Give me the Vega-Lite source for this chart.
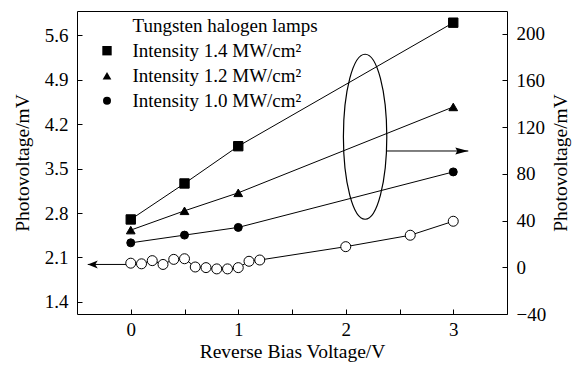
{
  "$schema": "https://vega.github.io/schema/vega-lite/v6.json",
  "autosize": {"type": "none"},
  "padding": {"left": 77, "top": 11, "right": 67, "bottom": 55},
  "width": 430,
  "height": 303,
  "background": "white",
  "config": {
    "view": {"stroke": "black", "strokeWidth": 1},
    "font": "Liberation Serif",
    "axis": {
      "domain": false, "tickColor": "black", "labelColor": "black", "titleColor": "black",
      "labelFont": "Liberation Serif", "titleFont": "Liberation Serif",
      "labelFontSize": 19, "titleFontSize": 19.5, "titleFontWeight": "normal",
      "grid": false, "labelFlush": false, "labelOverlap": false, "tickWidth": 1,
      "ticks": true, "tickSize": 5, "offset": -5, "zindex": 1
    },
    "legend": {
      "orient": "none", "legendX": 20.5, "legendY": 5.2, "zindex": 2,
      "labelFont": "Liberation Serif", "labelFontSize": 19, "labelColor": "black", "labelLimit": 0,
      "labelOffset": 16, "rowPadding": 5, "padding": 0,
      "symbolStrokeColor": "black", "symbolStrokeWidth": 1
    }
  },
  "datasets": {
    "pts": [
      {"series": "Tungsten halogen lamps", "x": 0, "y": 2.01},
      {"series": "Tungsten halogen lamps", "x": 0.1, "y": 2.0},
      {"series": "Tungsten halogen lamps", "x": 0.2, "y": 2.05},
      {"series": "Tungsten halogen lamps", "x": 0.3, "y": 1.99},
      {"series": "Tungsten halogen lamps", "x": 0.4, "y": 2.07},
      {"series": "Tungsten halogen lamps", "x": 0.5, "y": 2.08},
      {"series": "Tungsten halogen lamps", "x": 0.6, "y": 1.95},
      {"series": "Tungsten halogen lamps", "x": 0.7, "y": 1.94},
      {"series": "Tungsten halogen lamps", "x": 0.8, "y": 1.92},
      {"series": "Tungsten halogen lamps", "x": 0.9, "y": 1.92},
      {"series": "Tungsten halogen lamps", "x": 1.0, "y": 1.94},
      {"series": "Tungsten halogen lamps", "x": 1.1, "y": 2.04},
      {"series": "Tungsten halogen lamps", "x": 1.2, "y": 2.06},
      {"series": "Tungsten halogen lamps", "x": 2.0, "y": 2.27},
      {"series": "Tungsten halogen lamps", "x": 2.6, "y": 2.45},
      {"series": "Tungsten halogen lamps", "x": 3.0, "y": 2.67},
      {"series": "Intensity 1.4 MW/cm²", "x": 0, "y": 40.9},
      {"series": "Intensity 1.4 MW/cm²", "x": 0.5, "y": 71.7},
      {"series": "Intensity 1.4 MW/cm²", "x": 1, "y": 103.6},
      {"series": "Intensity 1.4 MW/cm²", "x": 3, "y": 209.3},
      {"series": "Intensity 1.2 MW/cm²", "x": 0, "y": 31.8},
      {"series": "Intensity 1.2 MW/cm²", "x": 0.5, "y": 48.3},
      {"series": "Intensity 1.2 MW/cm²", "x": 1, "y": 63.7},
      {"series": "Intensity 1.2 MW/cm²", "x": 3, "y": 137.2},
      {"series": "Intensity 1.0 MW/cm²", "x": 0, "y": 20.9},
      {"series": "Intensity 1.0 MW/cm²", "x": 0.5, "y": 27.5},
      {"series": "Intensity 1.0 MW/cm²", "x": 1, "y": 34.1},
      {"series": "Intensity 1.0 MW/cm²", "x": 3, "y": 81.6}
    ],
    "notes": [
      {"kind": "left", "x": 0, "x2": -0.4, "y": 1.99},
      {"kind": "right", "x": 2.382, "x2": 3.14, "y": 99.5},
      {"kind": "ellipse", "x": 2.18, "y": 111.7}
    ]
  },
  "resolve": {"scale": {"y": "independent"}},
  "layer": [
    {
      "layer": [
        {
          "data": {"name": "pts"},
          "transform": [{"filter": "datum.series === 'Tungsten halogen lamps'"}],
          "mark": {"type": "line", "color": "black", "strokeWidth": 1},
          "encoding": {
            "x": {"field": "x", "type": "quantitative", "scale": {"domain": [-0.5, 3.5], "nice": false, "zero": false},
              "axis": {"orient": "bottom", "values": [0, 0.5, 1, 1.5, 2, 2.5, 3],
                "labelExpr": "datum.value % 1 === 0 ? format(datum.value, 'd') : ''",
                "labelPadding": 6, "title": "Reverse Bias Voltage/V", "titlePadding": 3}},
            "y": {"field": "y", "type": "quantitative", "scale": {"domain": [1.21, 5.98], "nice": false, "zero": false},
              "axis": {"orient": "left", "values": [1.4, 1.75, 2.1, 2.45, 2.8, 3.15, 3.5, 3.85, 4.2, 4.55, 4.9, 5.25, 5.6],
                "labelExpr": "round(datum.value / 0.35) % 2 === 0 ? format(datum.value, '.1f') : ''",
                "labelPadding": 9, "title": "Photovoltage/mV", "titlePadding": 12}}
          }
        },
        {
          "data": {"name": "notes"},
          "transform": [{"filter": "datum.kind === 'left'"}],
          "mark": {"type": "rule", "color": "black", "strokeWidth": 1},
          "encoding": {
            "x": {"field": "x", "type": "quantitative", "scale": {"domain": [-0.5, 3.5], "nice": false, "zero": false}},
            "x2": {"field": "x2"},
            "y": {"field": "y", "type": "quantitative", "scale": {"domain": [1.21, 5.98], "nice": false, "zero": false}}
          }
        },
        {
          "data": {"name": "notes"},
          "transform": [{"filter": "datum.kind === 'left'"}],
          "mark": {"type": "point", "shape": "M0,0L2,-0.8L1.5,0L2,0.8Z", "size": 100, "filled": true, "color": "black", "opacity": 1},
          "encoding": {
            "x": {"field": "x2", "type": "quantitative", "scale": {"domain": [-0.5, 3.5], "nice": false, "zero": false}},
            "y": {"field": "y", "type": "quantitative", "scale": {"domain": [1.21, 5.98], "nice": false, "zero": false}}
          }
        },
        {
          "data": {"name": "pts"},
          "transform": [{"filter": "datum.series === 'Tungsten halogen lamps'"}],
          "mark": {"type": "point", "filled": true, "stroke": "black", "strokeWidth": 1, "opacity": 1},
          "encoding": {
            "x": {"field": "x", "type": "quantitative", "scale": {"domain": [-0.5, 3.5], "nice": false, "zero": false}},
            "y": {"field": "y", "type": "quantitative", "scale": {"domain": [1.21, 5.98], "nice": false, "zero": false}},
            "shape": {"field": "series", "type": "nominal",
              "scale": {"domain": ["Tungsten halogen lamps", "Intensity 1.4 MW/cm²", "Intensity 1.2 MW/cm²", "Intensity 1.0 MW/cm²"], "range": ["circle", "square", "triangle-up", "circle"]},
              "legend": {"orient": "none", "legendX": 20.5, "legendY": 5.2, "title": null, "labelLimit": 0,
                "encode": {"symbols": {
                  "shape": {"condition": [
                    {"test": "datum.value === 'Tungsten halogen lamps'", "value": "M-4.6,0L-1.1,0M1.1,0L4.6,0M1.1,0C1.1,0.61,0.61,1.1,0,1.1C-0.61,1.1,-1.1,0.61,-1.1,0C-1.1,-0.61,-0.61,-1.1,0,-1.1C0.61,-1.1,1.1,-0.61,1.1,0Z"},
                    {"test": "datum.value === 'Intensity 1.4 MW/cm²'", "value": "M-4.6,0L-0.9,0M0.9,0L4.6,0M-0.9,-0.9L0.9,-0.9L0.9,0.9L-0.9,0.9Z"},
                    {"test": "datum.value === 'Intensity 1.2 MW/cm²'", "value": "M-4.6,0L-0.9,0M0.9,0L4.6,0M0,-1.05L1.05,0.8L-1.05,0.8Z"}],
                    "value": "M-4.6,0L-1,0M1,0L4.6,0M1,0C1,0.552,0.552,1,0,1C-0.552,1,-1,0.552,-1,0C-1,-0.552,-0.552,-1,0,-1C0.552,-1,1,-0.552,1,0Z"},
                  "size": {"value": 81},
                  "stroke": {"value": "black"},
                  "strokeWidth": {"value": 1},
                  "opacity": {"value": 1}
                }}}},
            "fill": {"field": "series", "type": "nominal",
              "scale": {"domain": ["Tungsten halogen lamps", "Intensity 1.4 MW/cm²", "Intensity 1.2 MW/cm²", "Intensity 1.0 MW/cm²"], "range": ["white", "black", "black", "black"]},
              "legend": {"orient": "none", "legendX": 20.5, "legendY": 5.2, "title": null, "labelLimit": 0,
                "encode": {"symbols": {
                  "shape": {"condition": [
                    {"test": "datum.value === 'Tungsten halogen lamps'", "value": "M-4.6,0L-1.1,0M1.1,0L4.6,0M1.1,0C1.1,0.61,0.61,1.1,0,1.1C-0.61,1.1,-1.1,0.61,-1.1,0C-1.1,-0.61,-0.61,-1.1,0,-1.1C0.61,-1.1,1.1,-0.61,1.1,0Z"},
                    {"test": "datum.value === 'Intensity 1.4 MW/cm²'", "value": "M-4.6,0L-0.9,0M0.9,0L4.6,0M-0.9,-0.9L0.9,-0.9L0.9,0.9L-0.9,0.9Z"},
                    {"test": "datum.value === 'Intensity 1.2 MW/cm²'", "value": "M-4.6,0L-0.9,0M0.9,0L4.6,0M0,-1.05L1.05,0.8L-1.05,0.8Z"}],
                    "value": "M-4.6,0L-1,0M1,0L4.6,0M1,0C1,0.552,0.552,1,0,1C-0.552,1,-1,0.552,-1,0C-1,-0.552,-0.552,-1,0,-1C0.552,-1,1,-0.552,1,0Z"},
                  "size": {"value": 81},
                  "stroke": {"value": "black"},
                  "strokeWidth": {"value": 1},
                  "opacity": {"value": 1}
                }}}},
            "size": {"field": "series", "type": "nominal",
              "scale": {"domain": ["Tungsten halogen lamps", "Intensity 1.4 MW/cm²", "Intensity 1.2 MW/cm²", "Intensity 1.0 MW/cm²"], "range": [100, 64, 80, 72]},
              "legend": {"orient": "none", "legendX": 20.5, "legendY": 5.2, "title": null, "labelLimit": 0,
                "encode": {"symbols": {
                  "shape": {"condition": [
                    {"test": "datum.value === 'Tungsten halogen lamps'", "value": "M-4.6,0L-1.1,0M1.1,0L4.6,0M1.1,0C1.1,0.61,0.61,1.1,0,1.1C-0.61,1.1,-1.1,0.61,-1.1,0C-1.1,-0.61,-0.61,-1.1,0,-1.1C0.61,-1.1,1.1,-0.61,1.1,0Z"},
                    {"test": "datum.value === 'Intensity 1.4 MW/cm²'", "value": "M-4.6,0L-0.9,0M0.9,0L4.6,0M-0.9,-0.9L0.9,-0.9L0.9,0.9L-0.9,0.9Z"},
                    {"test": "datum.value === 'Intensity 1.2 MW/cm²'", "value": "M-4.6,0L-0.9,0M0.9,0L4.6,0M0,-1.05L1.05,0.8L-1.05,0.8Z"}],
                    "value": "M-4.6,0L-1,0M1,0L4.6,0M1,0C1,0.552,0.552,1,0,1C-0.552,1,-1,0.552,-1,0C-1,-0.552,-0.552,-1,0,-1C0.552,-1,1,-0.552,1,0Z"},
                  "size": {"value": 81},
                  "stroke": {"value": "black"},
                  "strokeWidth": {"value": 1},
                  "opacity": {"value": 1}
                }}}}
          }
        }
      ]
    },
    {
      "layer": [
        {
          "data": {"name": "pts"},
          "transform": [{"filter": "datum.series !== 'Tungsten halogen lamps'"}],
          "mark": {"type": "line", "color": "black", "strokeWidth": 1},
          "encoding": {
            "detail": {"field": "series", "type": "nominal"},
            "x": {"field": "x", "type": "quantitative", "scale": {"domain": [-0.5, 3.5], "nice": false, "zero": false}},
            "y": {"field": "y", "type": "quantitative", "scale": {"domain": [-40, 219.3], "nice": false, "zero": false},
              "axis": {"orient": "right", "values": [-40, -20, 0, 20, 40, 60, 80, 100, 120, 140, 160, 180, 200],
                "labelExpr": "datum.value % 40 === 0 ? format(datum.value, 'd') : ''",
                "labelPadding": 9, "title": "Photovoltage/mV", "titleAngle": 270, "titleBaseline": "top", "titlePadding": 6}}
          }
        },
        {
          "data": {"name": "notes"},
          "transform": [{"filter": "datum.kind === 'right'"}],
          "mark": {"type": "rule", "color": "black", "strokeWidth": 1},
          "encoding": {
            "x": {"field": "x", "type": "quantitative", "scale": {"domain": [-0.5, 3.5], "nice": false, "zero": false}},
            "x2": {"field": "x2"},
            "y": {"field": "y", "type": "quantitative", "scale": {"domain": [-40, 219.3], "nice": false, "zero": false}}
          }
        },
        {
          "data": {"name": "notes"},
          "transform": [{"filter": "datum.kind === 'right'"}],
          "mark": {"type": "point", "shape": "M0,0L-2,-0.55L-1.7,0L-2,0.55Z", "size": 169, "filled": true, "color": "black", "opacity": 1},
          "encoding": {
            "x": {"field": "x2", "type": "quantitative", "scale": {"domain": [-0.5, 3.5], "nice": false, "zero": false}},
            "y": {"field": "y", "type": "quantitative", "scale": {"domain": [-40, 219.3], "nice": false, "zero": false}}
          }
        },
        {
          "data": {"name": "notes"},
          "transform": [{"filter": "datum.kind === 'ellipse'"}],
          "mark": {"type": "point", "shape": "M0.263,0C0.263,0.552,0.145,1,0,1C-0.145,1,-0.263,0.552,-0.263,0C-0.263,-0.552,-0.145,-1,0,-1C0.145,-1,0.263,-0.552,0.263,0Z", "size": 27225, "filled": false, "stroke": "black", "strokeWidth": 1.2, "opacity": 1},
          "encoding": {
            "x": {"field": "x", "type": "quantitative", "scale": {"domain": [-0.5, 3.5], "nice": false, "zero": false}},
            "y": {"field": "y", "type": "quantitative", "scale": {"domain": [-40, 219.3], "nice": false, "zero": false}}
          }
        },
        {
          "data": {"name": "pts"},
          "transform": [{"filter": "datum.series !== 'Tungsten halogen lamps'"}],
          "mark": {"type": "point", "filled": true, "stroke": "black", "strokeWidth": 1, "opacity": 1},
          "encoding": {
            "x": {"field": "x", "type": "quantitative", "scale": {"domain": [-0.5, 3.5], "nice": false, "zero": false}},
            "y": {"field": "y", "type": "quantitative", "scale": {"domain": [-40, 219.3], "nice": false, "zero": false}},
            "shape": {"field": "series", "type": "nominal",
              "scale": {"domain": ["Tungsten halogen lamps", "Intensity 1.4 MW/cm²", "Intensity 1.2 MW/cm²", "Intensity 1.0 MW/cm²"], "range": ["circle", "square", "triangle-up", "circle"]},
              "legend": {"orient": "none", "legendX": 20.5, "legendY": 5.2, "title": null, "labelLimit": 0,
                "encode": {"symbols": {
                  "shape": {"condition": [
                    {"test": "datum.value === 'Tungsten halogen lamps'", "value": "M-4.6,0L-1.1,0M1.1,0L4.6,0M1.1,0C1.1,0.61,0.61,1.1,0,1.1C-0.61,1.1,-1.1,0.61,-1.1,0C-1.1,-0.61,-0.61,-1.1,0,-1.1C0.61,-1.1,1.1,-0.61,1.1,0Z"},
                    {"test": "datum.value === 'Intensity 1.4 MW/cm²'", "value": "M-4.6,0L-0.9,0M0.9,0L4.6,0M-0.9,-0.9L0.9,-0.9L0.9,0.9L-0.9,0.9Z"},
                    {"test": "datum.value === 'Intensity 1.2 MW/cm²'", "value": "M-4.6,0L-0.9,0M0.9,0L4.6,0M0,-1.05L1.05,0.8L-1.05,0.8Z"}],
                    "value": "M-4.6,0L-1,0M1,0L4.6,0M1,0C1,0.552,0.552,1,0,1C-0.552,1,-1,0.552,-1,0C-1,-0.552,-0.552,-1,0,-1C0.552,-1,1,-0.552,1,0Z"},
                  "size": {"value": 81},
                  "stroke": {"value": "black"},
                  "strokeWidth": {"value": 1},
                  "opacity": {"value": 1}
                }}}},
            "fill": {"field": "series", "type": "nominal",
              "scale": {"domain": ["Tungsten halogen lamps", "Intensity 1.4 MW/cm²", "Intensity 1.2 MW/cm²", "Intensity 1.0 MW/cm²"], "range": ["white", "black", "black", "black"]},
              "legend": {"orient": "none", "legendX": 20.5, "legendY": 5.2, "title": null, "labelLimit": 0,
                "encode": {"symbols": {
                  "shape": {"condition": [
                    {"test": "datum.value === 'Tungsten halogen lamps'", "value": "M-4.6,0L-1.1,0M1.1,0L4.6,0M1.1,0C1.1,0.61,0.61,1.1,0,1.1C-0.61,1.1,-1.1,0.61,-1.1,0C-1.1,-0.61,-0.61,-1.1,0,-1.1C0.61,-1.1,1.1,-0.61,1.1,0Z"},
                    {"test": "datum.value === 'Intensity 1.4 MW/cm²'", "value": "M-4.6,0L-0.9,0M0.9,0L4.6,0M-0.9,-0.9L0.9,-0.9L0.9,0.9L-0.9,0.9Z"},
                    {"test": "datum.value === 'Intensity 1.2 MW/cm²'", "value": "M-4.6,0L-0.9,0M0.9,0L4.6,0M0,-1.05L1.05,0.8L-1.05,0.8Z"}],
                    "value": "M-4.6,0L-1,0M1,0L4.6,0M1,0C1,0.552,0.552,1,0,1C-0.552,1,-1,0.552,-1,0C-1,-0.552,-0.552,-1,0,-1C0.552,-1,1,-0.552,1,0Z"},
                  "size": {"value": 81},
                  "stroke": {"value": "black"},
                  "strokeWidth": {"value": 1},
                  "opacity": {"value": 1}
                }}}},
            "size": {"field": "series", "type": "nominal",
              "scale": {"domain": ["Tungsten halogen lamps", "Intensity 1.4 MW/cm²", "Intensity 1.2 MW/cm²", "Intensity 1.0 MW/cm²"], "range": [100, 64, 80, 72]},
              "legend": {"orient": "none", "legendX": 20.5, "legendY": 5.2, "title": null, "labelLimit": 0,
                "encode": {"symbols": {
                  "shape": {"condition": [
                    {"test": "datum.value === 'Tungsten halogen lamps'", "value": "M-4.6,0L-1.1,0M1.1,0L4.6,0M1.1,0C1.1,0.61,0.61,1.1,0,1.1C-0.61,1.1,-1.1,0.61,-1.1,0C-1.1,-0.61,-0.61,-1.1,0,-1.1C0.61,-1.1,1.1,-0.61,1.1,0Z"},
                    {"test": "datum.value === 'Intensity 1.4 MW/cm²'", "value": "M-4.6,0L-0.9,0M0.9,0L4.6,0M-0.9,-0.9L0.9,-0.9L0.9,0.9L-0.9,0.9Z"},
                    {"test": "datum.value === 'Intensity 1.2 MW/cm²'", "value": "M-4.6,0L-0.9,0M0.9,0L4.6,0M0,-1.05L1.05,0.8L-1.05,0.8Z"}],
                    "value": "M-4.6,0L-1,0M1,0L4.6,0M1,0C1,0.552,0.552,1,0,1C-0.552,1,-1,0.552,-1,0C-1,-0.552,-0.552,-1,0,-1C0.552,-1,1,-0.552,1,0Z"},
                  "size": {"value": 81},
                  "stroke": {"value": "black"},
                  "strokeWidth": {"value": 1},
                  "opacity": {"value": 1}
                }}}}
          }
        }
      ]
    }
  ]
}
